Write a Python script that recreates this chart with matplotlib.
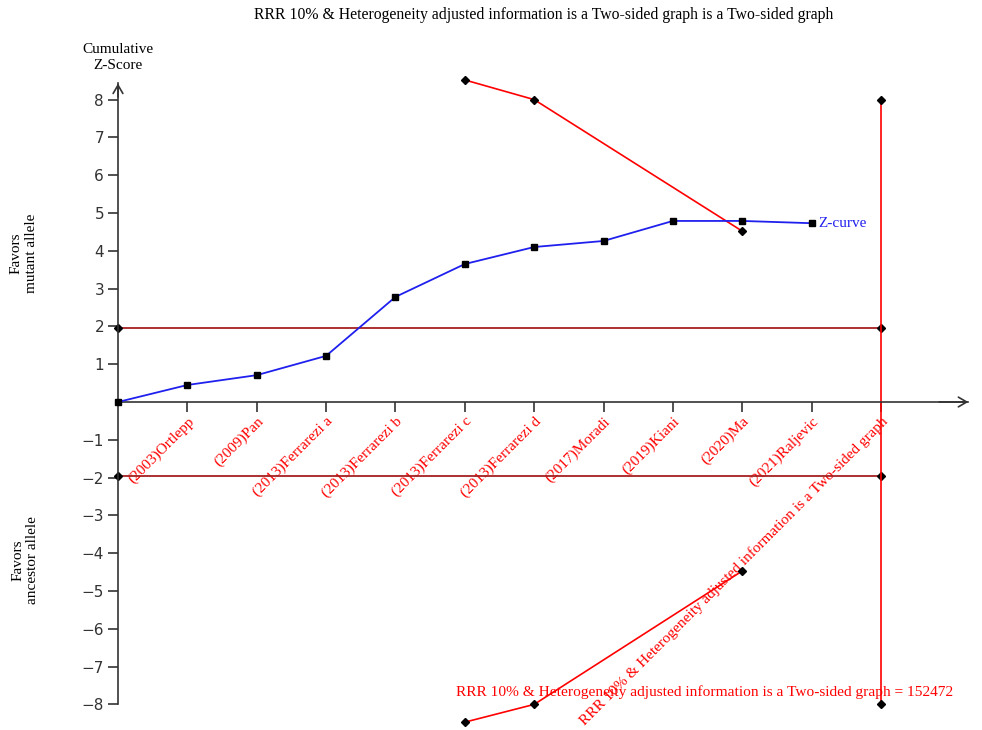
import matplotlib

matplotlib.use("Agg")
import matplotlib.pyplot as plt  # noqa: E402

# cumulative Z-curve, one point per study (index 0 = origin)
studies = ["(2003)Ortlepp", "(2009)Pan", "(2013)Ferrarezi a", "(2013)Ferrarezi b",
           "(2013)Ferrarezi c", "(2013)Ferrarezi d", "(2017)Moradi", "(2019)Kiani",
           "(2020)Ma", "(2021)Raljevic",
           "RRR 10% & Heterogeneity adjusted information is a Two-sided graph"]
z_x = [0, 1, 2, 3, 4, 5, 6, 7, 8, 9, 10]
z_val = [0.0, 0.45, 0.71, 1.22, 2.78, 3.65, 4.10, 4.26, 4.79, 4.79, 4.73]

# monitoring boundaries
bound_x = [5, 6, 9]
upper_bound = [8.52, 8.0, 4.52]
lower_bound = [-8.47, -8.0, -4.47]

conv = 1.96      # conventional significance line
ris_x = 11       # required information size
ris_lim = 8.0
ris_text = "RRR 10% & Heterogeneity adjusted information is a Two-sided graph = 152472"
title = "RRR 10% & Heterogeneity adjusted information is a Two-sided graph is a Two-sided graph"

SERIF = "Liberation Serif"
DARKRED = "#a52020"

fig = plt.figure(figsize=(9.82, 7.30), dpi=100, facecolor="white")
ax = fig.add_axes([0, 0, 1, 1])
# pixel layout: origin at (118, 402), 69.36 px per study, 37.8 px per z unit
ax.set_xlim(-118 / 69.36, (982 - 118) / 69.36)
ax.set_ylim((402 - 730) / 37.8, 402 / 37.8)

for s in ["top", "right"]:
    ax.spines[s].set_visible(False)
ax.spines["left"].set_position(("data", 0))
ax.spines["bottom"].set_position(("data", 0))
ax.spines["left"].set_bounds(-8, 8.45)
ax.spines["bottom"].set_bounds(0, 12.25)
for s in ["left", "bottom"]:
    ax.spines[s].set_color("#333333")
    ax.spines[s].set_linewidth(1.2)

# open arrowheads at the axis ends
ax.annotate("", xy=(0, 8.5), xytext=(0, 8.0),
            arrowprops=dict(arrowstyle="->,head_width=0.35,head_length=0.6",
                            lw=1.2, color="#333333"))
ax.annotate("", xy=(12.3, 0), xytext=(11.8, 0),
            arrowprops=dict(arrowstyle="->,head_width=0.35,head_length=0.6",
                            lw=1.2, color="#333333"))

yt = [v for v in range(-8, 9) if v != 0]
ax.set_yticks(yt)
ax.set_yticklabels([str(v).replace("-", "\u2212") for v in yt],
                   fontsize=11, color="#333333")
ax.tick_params(axis="y", length=7, width=1.2, color="#333333", pad=3)

ax.set_xticks(range(1, 12))
ax.set_xticklabels(studies, rotation=45, ha="right", va="top",
                   rotation_mode="anchor", color="red", fontsize=11,
                   family=SERIF)
ax.tick_params(axis="x", length=7, width=1.2, color="#333333", pad=2)

# conventional boundaries and required information size
ax.plot([0, ris_x], [conv, conv], color=DARKRED, lw=1.3, marker="D", ms=4,
        mfc="black", mec="black")
ax.plot([0, ris_x], [-conv, -conv], color=DARKRED, lw=1.3, marker="D", ms=4,
        mfc="black", mec="black")
ax.plot([ris_x, ris_x], [-ris_lim, ris_lim], color="red", lw=1.2, marker="D",
        ms=4, mfc="black", mec="black")

# monitoring boundaries
ax.plot(bound_x, upper_bound, color="red", lw=1.2, marker="D", ms=4,
        mfc="black", mec="black", zorder=3)
ax.plot(bound_x, lower_bound, color="red", lw=1.2, marker="D", ms=4,
        mfc="black", mec="black", zorder=3)

# Z-curve
ax.plot(z_x, z_val, color="#2020ee", lw=1.3, marker="s", ms=5,
        mfc="black", mec="black", zorder=4)
ax.text(z_x[-1] + 0.1, z_val[-1], "Z-curve", color="#2020ee", fontsize=11,
        family=SERIF, va="center", ha="left")

ax.text(8.46, -7.67, ris_text, color="red", fontsize=11.1, family=SERIF,
        ha="center", va="center")

ax.text(0, 9.12, "Cumulative\nZ-Score", fontsize=11, family=SERIF,
        ha="center", va="center", linespacing=1.35)
ax.text(-1.36, 3.93, "Favors\nmutant allele", fontsize=11, family=SERIF,
        ha="center", va="center", rotation=90, linespacing=1.2)
ax.text(-1.34, -4.18, "Favors\nancestor allele", fontsize=11, family=SERIF,
        ha="center", va="center", rotation=90, linespacing=1.2)

fig.text(0.554, 0.979, title, fontsize=11.3, family=SERIF, ha="center",
         va="center")

fig.savefig("out.png", dpi=100)
